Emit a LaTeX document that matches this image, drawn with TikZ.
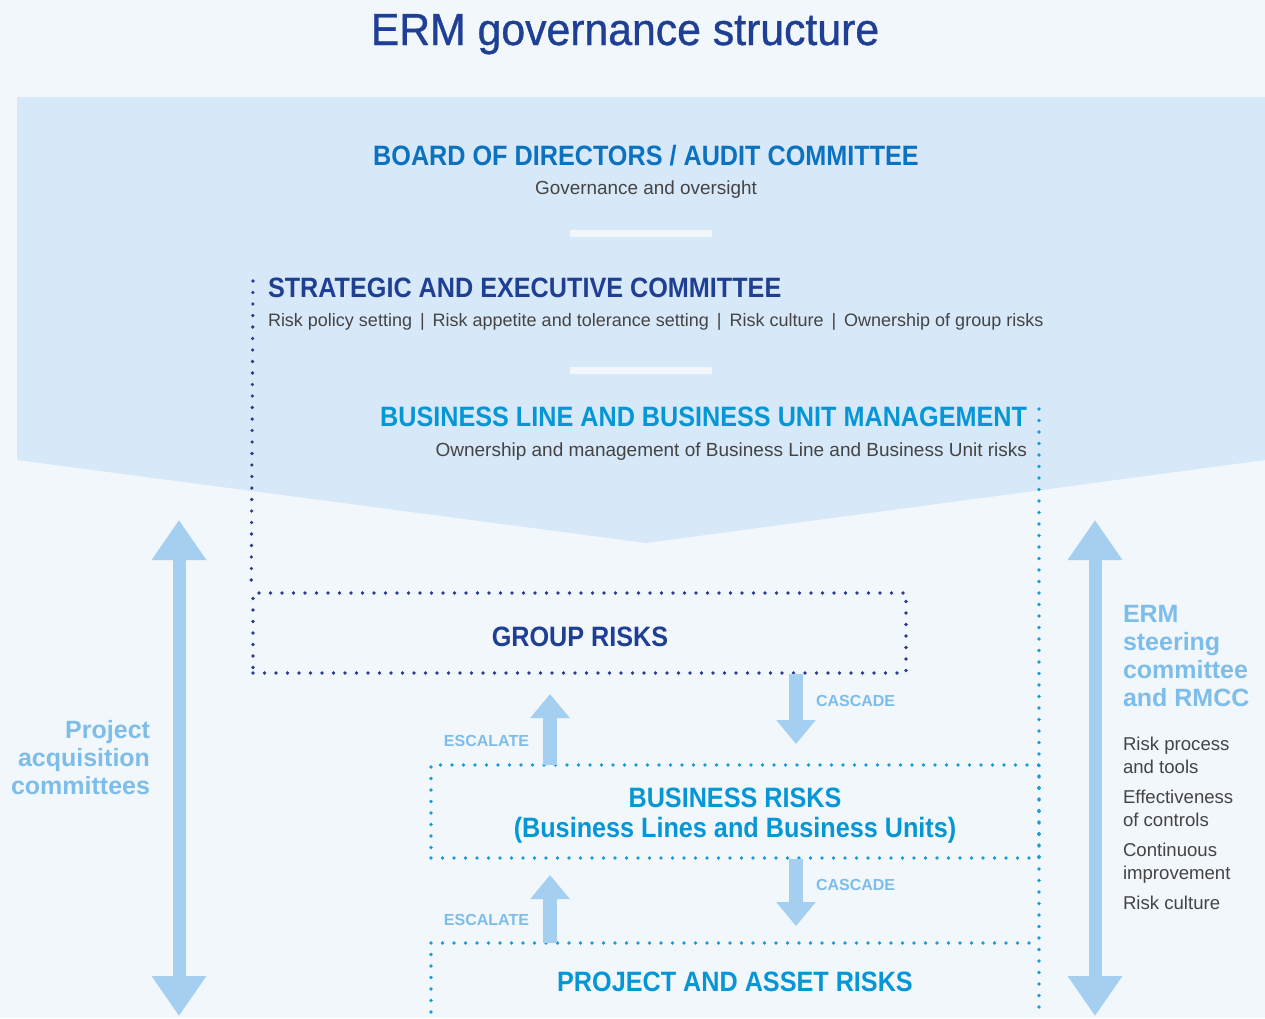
\documentclass[tikz,border=0pt]{standalone}
\usepackage{fontspec}
\setmainfont{Liberation Sans}
\newfontfamily\condf[FakeStretch=0.9]{Liberation Sans}
\newfontfamily\titlef[FakeStretch=0.95,FakeBold=0.8]{Liberation Sans}
\usetikzlibrary{arrows.meta}
\definecolor{bgc}{HTML}{F2F7FC}
\definecolor{panelc}{HTML}{D7E8F8}
\definecolor{darkb}{HTML}{1E3F94}
\definecolor{boardb}{HTML}{0A72C0}
\definecolor{cyanb}{HTML}{0596D6}
\definecolor{lightb}{HTML}{7DBDEA}
\definecolor{arrowb}{HTML}{A4CFF0}
\definecolor{grayt}{HTML}{444444}
\definecolor{dotdark}{HTML}{2B3990}
\definecolor{dotcyan}{HTML}{1A9AD8}
\tikzset{
  txt/.style={inner sep=0pt, outer sep=0pt},
  head/.style={txt, font=\condf\bfseries\fontsize{28}{30}\selectfont},
  graytxt/.style={txt, text=grayt, font=\fontsize{18.6}{22}\selectfont},
  smalllbl/.style={txt, text=lightb, font=\bfseries\fontsize{16}{18}\selectfont},
  sidelbl/.style={txt, text=lightb, font=\bfseries\fontsize{25}{28}\selectfont},
  dotline/.style={line width=3.6pt, line cap=round, dash pattern=on 0pt off 11.5pt},
  flowarrow/.style={draw=arrowb, line width=14pt, -{Triangle[width=38pt,length=24pt]}},
  bigarrow/.style={draw=arrowb, line width=13pt, {Triangle[width=52pt,length=40pt]}-{Triangle[width=52pt,length=40pt]}},
  whitebar/.style={fill=bgc, draw=none}
}
\begin{document}
\begin{tikzpicture}[x=1pt,y=-1pt]
\useasboundingbox (0,0) rectangle (1265,1018);
\fill[bgc] (0,0) rectangle (1265,1018);
% panel
\fill[panelc] (17,97) -- (1265,97) -- (1265,460) -- (646,543) -- (17,460) -- cycle;
% title
\node[txt, anchor=base, text=darkb, font=\titlef\fontsize{45}{50}\selectfont] (title) at (625,45) {ERM governance structure};
% board
\node[head, anchor=base, text=boardb] (board) at (646,165) {BOARD OF DIRECTORS / AUDIT COMMITTEE};
\node[graytxt, anchor=base, font=\fontsize{18.9}{22}\selectfont] (boardsub) at (646,194) {Governance and oversight};
\fill[whitebar] (570,230) rectangle (712,237);
% strategic
\node[head, anchor=base west, text=darkb] (strat) at (268,297) {STRATEGIC AND EXECUTIVE COMMITTEE};
\node[graytxt, anchor=base west, font=\fontsize{18}{22}\selectfont] (stratsub) at (268,326) {Risk policy setting \,|\, Risk appetite and tolerance setting \,|\, Risk culture \,|\, Ownership of group risks};
\fill[whitebar] (570,367) rectangle (712,374);
% business line
\node[head, anchor=base east, text=cyanb] (bl) at (1027,426) {BUSINESS LINE AND BUSINESS UNIT MANAGEMENT};
\node[graytxt, anchor=base east, font=\fontsize{19}{22}\selectfont] (blsub) at (1027,456) {Ownership and management of Business Line and Business Unit risks};
% dotted structures
\coordinate (dtop) at (253,281);
\coordinate (ctop) at (1039,409);
\coordinate (cbot) at (1039,1012);
\node[draw=dotdark, dotline, minimum width=653pt, minimum height=80pt, inner sep=0pt] (group) at (579.5,633) {};
\node[head, anchor=base, text=darkb] (grouptxt) at (580,646) {GROUP RISKS};
\draw[draw=dotdark, dotline] (dtop) -- (group.north west);
\draw[draw=dotcyan, dotline] (ctop) -- (cbot);
\node[draw=dotcyan, dotline, minimum width=608pt, minimum height=93pt, inner sep=0pt] (bus) at (735,811.5) {};
\node[head, anchor=base, text=cyanb] (bustxt) at (735,807) {BUSINESS RISKS};
\node[head, anchor=base, text=cyanb] (bustxt2) at (735,837) {(Business Lines and Business Units)};
\coordinate (pbl) at (431,1012);
\coordinate (ptl) at (431,943);
\coordinate (ptr) at (1039,943);
\draw[draw=dotcyan, dotline] (pbl) -- (ptl) -- (ptr);
\node[head, anchor=base, text=cyanb] (projtxt) at (735,991) {PROJECT AND ASSET RISKS};
% cascade / escalate arrows
\coordinate (c1s) at (796,674);
\coordinate (c1e) at (796,744);
\coordinate (e1s) at (550,765);
\coordinate (e1e) at (550,694);
\coordinate (c2s) at (796,859);
\coordinate (c2e) at (796,926);
\coordinate (e2s) at (550,943);
\coordinate (e2e) at (550,875);
\draw[flowarrow] (c1s) -- (c1e);
\draw[flowarrow] (e1s) -- (e1e);
\draw[flowarrow] (c2s) -- (c2e);
\draw[flowarrow] (e2s) -- (e2e);
\node[smalllbl, anchor=base west] (cas1) at (816,706) {CASCADE};
\node[smalllbl, anchor=base east] (esc1) at (529,746) {ESCALATE};
\node[smalllbl, anchor=base west] (cas2) at (816,890) {CASCADE};
\node[smalllbl, anchor=base east] (esc2) at (529,925) {ESCALATE};
% big side arrows
\coordinate (lt) at (179,520);
\coordinate (lb) at (179,1016);
\coordinate (rt) at (1095,520);
\coordinate (rb) at (1095,1016);
\draw[bigarrow] (lt) -- (lb);
\draw[bigarrow] (rt) -- (rb);
\node[sidelbl, anchor=base east] (pa1) at (150,738) {Project};
\node[sidelbl, anchor=base east] (pa2) at (150,766) {acquisition};
\node[sidelbl, anchor=base east] (pa3) at (150,794) {committees};
\node[sidelbl, anchor=base west] (erm1) at (1123,622) {ERM};
\node[sidelbl, anchor=base west] (erm2) at (1123,650) {steering};
\node[sidelbl, anchor=base west] (erm3) at (1123,678) {committee};
\node[sidelbl, anchor=base west] (erm4) at (1123,706) {and RMCC};
\node[graytxt, anchor=base west] (g1) at (1123,750) {Risk process};
\node[graytxt, anchor=base west] (g2) at (1123,773) {and tools};
\node[graytxt, anchor=base west] (g3) at (1123,803) {Effectiveness};
\node[graytxt, anchor=base west] (g4) at (1123,826) {of controls};
\node[graytxt, anchor=base west] (g5) at (1123,856) {Continuous};
\node[graytxt, anchor=base west] (g6) at (1123,879) {improvement};
\node[graytxt, anchor=base west] (g7) at (1123,909) {Risk culture};
\end{tikzpicture}
\end{document}
